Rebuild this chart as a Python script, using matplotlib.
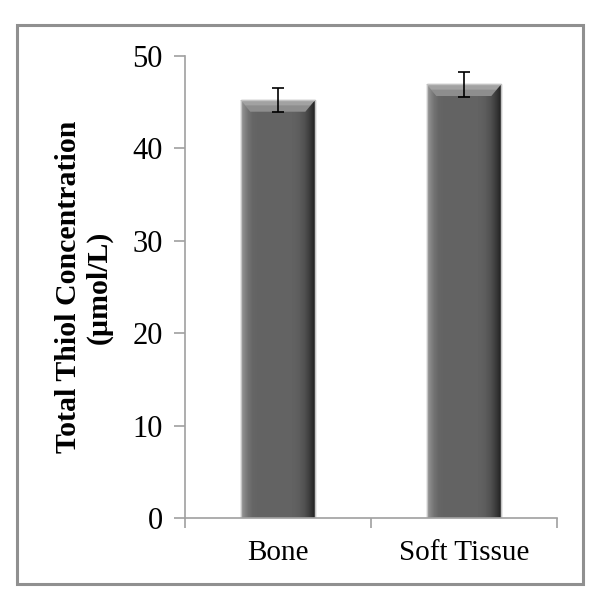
import matplotlib.pyplot as plt
import numpy as np
from matplotlib.patches import Polygon, Rectangle

plt.rcParams['font.family'] = 'Liberation Serif'

categories = ['Bone', 'Soft Tissue']
values = [45.2, 46.9]
errors = [1.3, 1.35]
yticks = [0, 10, 20, 30, 40, 50]

fig = plt.figure(figsize=(6, 6.13), dpi=100)
ax = fig.add_axes([0.308, 0.155, 0.62, 0.754])

x = np.arange(len(categories))
bars = ax.bar(x, values, width=0.4, color='#646464', edgecolor='#c4c4c4',
              linewidth=1.0, zorder=2)

# bevel shading on each bar
shade = np.array([0.55, 0.45, 0.40, 0.39, 0.39, 0.39, 0.39, 0.39, 0.39, 0.39,
                  0.39, 0.38, 0.36, 0.32, 0.25, 0.16])
for b in bars:
    x0, w, h = b.get_x(), b.get_width(), b.get_height()
    img = np.tile(shade, (2, 1))
    ax.imshow(img, cmap='gray', vmin=0, vmax=1, aspect='auto',
              extent=(x0, x0 + w, 0, h), zorder=2.1, interpolation='bilinear')
    dx, dy = w * 0.13, 1.25
    ax.add_patch(Polygon([(x0, h), (x0 + w, h), (x0 + w - dx, h - dy), (x0 + dx, h - dy)],
                         closed=True, facecolor='#8e8e8e', edgecolor='none', zorder=2.2))
    ax.add_patch(Polygon([(x0, h), (x0 + w, h), (x0 + w - dx * 0.5, h - dy * 0.45),
                          (x0 + dx * 0.5, h - dy * 0.45)],
                         closed=True, facecolor='#a2a2a2', edgecolor='none', zorder=2.3))
    ax.add_patch(Rectangle((x0, 0), w, h, fill=False, edgecolor='#c4c4c4', lw=1.0, zorder=2.4))

ax.errorbar(x, values, yerr=errors, fmt='none', ecolor='black', elinewidth=1.2,
            capsize=4, capthick=1.2, zorder=3)

ax.set_xlim(-0.5, 1.5)
ax.set_ylim(0, 50)
ax.set_yticks(yticks)
ax.set_xticks([-0.5, 0.5, 1.5], minor=False)
ax.set_xticklabels(['', '', ''])
ax.set_xticks(x, minor=True)
ax.set_xticklabels(categories, minor=True, fontsize=21)
ax.tick_params(axis='x', which='minor', length=0, pad=16)
ax.tick_params(axis='x', which='major', length=7, color='#a0a0a0', width=1.2, direction='out')
ax.tick_params(axis='y', length=8, color='#a0a0a0', width=1.2, labelsize=22, pad=8)

for s in ['top', 'right']:
    ax.spines[s].set_visible(False)
for s in ['left', 'bottom']:
    ax.spines[s].set_color('#a0a0a0')
    ax.spines[s].set_linewidth(1.2)

fig.text(84 / 600, 1 - 287 / 613, 'Total Thiol Concentration\n(\u00b5mol/L)',
         rotation=90, ha='center', va='center', multialignment='center',
         fontsize=21.5, fontweight='bold', linespacing=1.15)

# outer border
fig.add_artist(Rectangle((17 / 600, 1 - 584 / 613), 566 / 600, 559 / 613,
                         transform=fig.transFigure, fill=False, edgecolor='#909090', lw=2.2))

fig.savefig('out.png', dpi=100)
